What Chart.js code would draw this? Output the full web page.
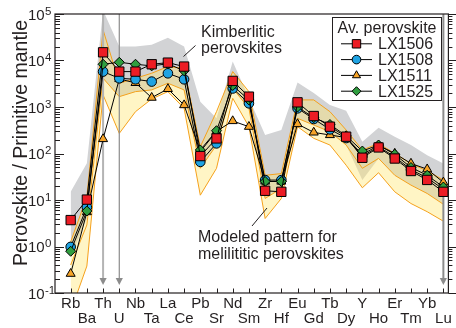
<!DOCTYPE html>
<html>
<head>
<meta charset="utf-8">
<script src="https://cdn.jsdelivr.net/npm/chart.js@4.4.0/dist/chart.umd.min.js"></script>
<style>
  html, body { margin: 0; padding: 0; background: #fff; }
  #wrap { position: relative; width: 456px; height: 328px; }
</style>
</head>
<body>
<div id="wrap"><canvas id="spider" width="456" height="328"></canvas></div>
<script>
// ---- data (perovskite / primitive mantle) ----
const elements = ['Rb','Ba','Th','U','Nb','Ta','La','Ce','Pb','Sr','Nd','Sm','Zr','Hf','Eu','Gd','Tb','Dy','Y','Ho','Er','Tm','Yb','Lu'];
const yTickPowers = [-1, 0, 1, 2, 3, 4, 5];

const lx1506 = [3.7, 10.2, 15000, 5770, 5770, 8300, 9000, 7400, 88, 211, 3640, 1670, 15.8, 15, 1260, 640, 377, 230, 81, 135, 78, 42, 27, 15];
const lx1508 = [0.98, 7, 5770, 4140, 3940, 3520, 5300, 3940, 66, 165, 2500, 1200, 26.8, 26.8, 935, 552, 330, 215, 88, 140, 85, 45, 30, 17];
const lx1511 = [0.26, 5.5, 205, 4000, 3300, 1590, 2450, 1100, 110, 300, 500, 377, 25, 25, 430, 284, 250, 220, 95, 150, 100, 61, 46, 24];
const lx1525 = [0.79, 5.8, 8300, 9160, 8300, 7660, 8500, 6000, 119, 309, 2900, 1420, 25, 25, 1000, 590, 420, 240, 113, 152, 96, 50, 34, 19];

// kimberlitic perovskite range (grey field)
const kimbMax = [15, 62, 120000, 20000, 20000, 21700, 31000, 20000, 1300, 570, 9500, 1550, 250, 320, 3350, 2000, 1100, 830, 180, 360, 230, 152, 92, 61];
const kimbMin = [0.6, 4, 4150, 1670, 2140, 2330, 3240, 2330, 48, 152, 2530, 937, 10.8, 17.7, 570, 410, 294, 152, 27, 78.5, 34, 20.9, 13.8, 8.1];

// modeled melilititic pattern (yellow field)
const modelHi  = [1.26, 11.7, 45600, 3240, 4150, 5320, 7400, 6810, 140, 794, 5780, 2140, 34, 37, 1420, 1420, 794, 320, 119, 165, 100, 61, 42, 27];
const modelMid = [0.4, 2.9, 4150, 1670, 2140, 2330, 3240, 2330, 48, 152, 2530, 937, 10.8, 17.7, 570, 410, 294, 152, 48, 78.5, 34, 20.9, 13.8, 8.1];
const modelLo  = [0.04, 0.38, 1820, 271, 794, 1490, 2140, 937, 12.7, 48, 1540, 378, 4.0, 10.8, 378, 212, 152, 56, 18.3, 38.6, 15, 8.4, 5.6, 3.5];

const arrowAt = ['Th', 'U', 'Lu'];

// ---- helpers ----
const ink = '#231f20';
const orange = '#f5a11c';
const fnt = s => `${s}px "Liberation Sans", Arial, sans-serif`;
const pts = arr => arr.map((v, i) => ({ x: i, y: v }));

const series = (label, data, style, fill, radius, order) => ({
    label,
    data: pts(data),
    borderColor: '#000',
    borderWidth: 1,
    pointStyle: style,
    pointRadius: radius,
    pointBackgroundColor: fill,
    pointBorderColor: '#000',
    pointBorderWidth: 1,
    tension: 0,
    fill: false,
    order
});

const band = (data, opts) => Object.assign({
    data: pts(data),
    pointRadius: 0,
    borderWidth: 0,
    tension: 0,
    fill: false
}, opts);

const datasets = [
    series('LX1506', lx1506, 'rect', '#ec1c24', 6.6, 0),
    series('LX1508', lx1508, 'circle', '#1fa3e3', 4.8, 2),
    series('LX1511', lx1511, 'triangle', '#f7a428', 5.2, 3),
    series('LX1525', lx1525, 'rectRot', '#2f9e3f', 5, 1),
    band(kimbMax, { fill: 5, backgroundColor: '#d2d3d5', order: 30 }),
    band(kimbMin, { order: 30 }),
    band(modelHi, { fill: 8, backgroundColor: 'rgba(255,231,110,0.40)', borderColor: orange, borderWidth: 1, order: 20 }),
    band(modelMid, { borderColor: orange, borderWidth: 1, order: 19 }),
    band(modelLo, { borderColor: orange, borderWidth: 1, order: 19 })
];

// ---- custom drawing: frame, ticks, labels, legend, notes ----
const decor = {
    id: 'decor',
    beforeDatasetDraw(chart, args) {
        if (args.index !== 2) return;
        const { ctx, chartArea: a, scales: { x } } = chart;
        ctx.save();
        arrowAt.forEach((el, k) => {
            const px = x.getPixelForValue(elements.indexOf(el));
            ctx.strokeStyle = k === 0 ? '#b4b4b4' : '#8c8c8c';
            ctx.lineWidth = k === 1 ? 1.2 : 2;
            ctx.beginPath();
            ctx.moveTo(px, a.top);
            ctx.lineTo(px, 279);
            ctx.stroke();
            ctx.fillStyle = '#8c8c8c';
            ctx.beginPath();
            ctx.moveTo(px - 3.6, 278);
            ctx.lineTo(px + 3.6, 278);
            ctx.lineTo(px, 285);
            ctx.closePath();
            ctx.fill();
        });
        ctx.restore();
    },
    afterDraw(chart) {
        const { ctx, chartArea: a, scales: { x, y } } = chart;
        ctx.save();

        // frame
        ctx.strokeStyle = ink;
        ctx.lineWidth = 1.2;
        ctx.strokeRect(a.left, a.top, a.right - a.left, a.bottom - a.top);

        // log ticks: inward on the left, outward on the right
        ctx.lineWidth = 1;
        for (let p = -1; p <= 5; p++) {
            for (let m = 1; m <= 9; m++) {
                const v = m * Math.pow(10, p);
                if (v > 1e5) break;
                const py = Math.round(y.getPixelForValue(v)) + 0.5;
                const len = m === 1 ? 9 : 5;
                ctx.beginPath();
                ctx.moveTo(a.left, py); ctx.lineTo(a.left + len, py);
                ctx.moveTo(a.right, py); ctx.lineTo(a.right + len - 1, py);
                ctx.stroke();
            }
        }
        // category ticks on the bottom axis
        elements.forEach((el, i) => {
            const px = Math.round(x.getPixelForValue(i)) + 0.5;
            ctx.beginPath();
            ctx.moveTo(px, a.bottom); ctx.lineTo(px, a.bottom - 4.5);
            ctx.stroke();
        });

        // y tick labels 10^n
        ctx.fillStyle = ink;
        ctx.textAlign = 'left';
        ctx.textBaseline = 'alphabetic';
        yTickPowers.forEach(p => {
            const py = y.getPixelForValue(Math.pow(10, p));
            ctx.font = fnt(15);
            ctx.fillText('10', 28, py + 5.5);
            ctx.font = fnt(11.5);
            ctx.fillText(String(p), 45, py + 0.5);
        });

        // y axis title
        ctx.save();
        ctx.translate(27, 143);
        ctx.rotate(-Math.PI / 2);
        ctx.textAlign = 'center';
        ctx.font = fnt(19.5);
        ctx.fillText('Perovskite / Primitive mantle', 0, 0);
        ctx.restore();

        // notes with leader lines
        ctx.font = fnt(16);
        ctx.fillText('Kimberlitic', 201, 36.5);
        ctx.fillText('perovskites', 201, 53);
        ctx.fillText('Modeled pattern for', 198, 241.5);
        ctx.fillText('melilititic perovskites', 198, 259);
        ctx.strokeStyle = ink;
        ctx.lineWidth = 1;
        ctx.beginPath();
        ctx.moveTo(195.5, 45.5); ctx.lineTo(183.5, 56.5);
        ctx.moveTo(252, 226); ctx.lineTo(267, 208);
        ctx.stroke();

        // legend box
        const L = 332.5, T = 17.5, R = 441.5, B = 100.5;
        ctx.fillStyle = '#fff';
        ctx.fillRect(L, T, R - L, B - T);
        ctx.strokeStyle = ink;
        ctx.strokeRect(L, T, R - L, B - T);
        ctx.fillStyle = ink;
        ctx.textAlign = 'center';
        ctx.font = fnt(16);
        ctx.fillText('Av. perovskite', (L + R) / 2, 32.5);
        ctx.textAlign = 'left';
        [0, 1, 2, 3].forEach((di, r) => {
            const ds = chart.data.datasets[di];
            const base = 49.3 + r * 15.8;
            const cy = base - 5.5;
            ctx.strokeStyle = '#000';
            ctx.lineWidth = 1;
            ctx.beginPath();
            ctx.moveTo(341, cy); ctx.lineTo(372, cy);
            ctx.stroke();
            ctx.fillStyle = ds.pointBackgroundColor;
            Chart.helpers.drawPoint(ctx, {
                pointStyle: ds.pointStyle,
                radius: ds.pointRadius * 0.9,
                rotation: 0,
                borderWidth: 1
            }, 356.5, cy);
            ctx.fillStyle = ink;
            ctx.font = fnt(16);
            ctx.fillText(ds.label, 378, base);
        });

        ctx.restore();
    }
};

new Chart(document.getElementById('spider'), {
    type: 'line',
    data: { datasets },
    options: {
        responsive: false,
        animation: false,
        devicePixelRatio: 1,
        layout: { padding: { top: 14, right: 7, left: 0, bottom: 0 } },
        plugins: {
            legend: { display: false },
            tooltip: { enabled: false }
        },
        scales: {
            x: {
                type: 'linear',
                min: -0.967,
                max: 23.31,
                grid: { display: false, drawTicks: false },
                border: { display: false },
                afterBuildTicks: s => { s.ticks = elements.map((e, i) => ({ value: i })); },
                afterFit: s => { s.height = 35; },
                ticks: {
                    autoSkip: false,
                    maxRotation: 0,
                    padding: 4,
                    color: ink,
                    font: { family: '"Liberation Sans", Arial, sans-serif', size: 15, lineHeight: 0.95 },
                    callback: v => {
                        const i = Math.round(v);
                        return i % 2 ? ['', elements[i]] : elements[i];
                    }
                }
            },
            y: {
                type: 'logarithmic',
                min: 0.1,
                max: 100000,
                grid: { display: false, drawTicks: false },
                border: { display: false },
                ticks: { display: false },
                afterFit: s => { s.width = 55; }
            }
        }
    },
    plugins: [decor]
});
</script>
</body>
</html>
